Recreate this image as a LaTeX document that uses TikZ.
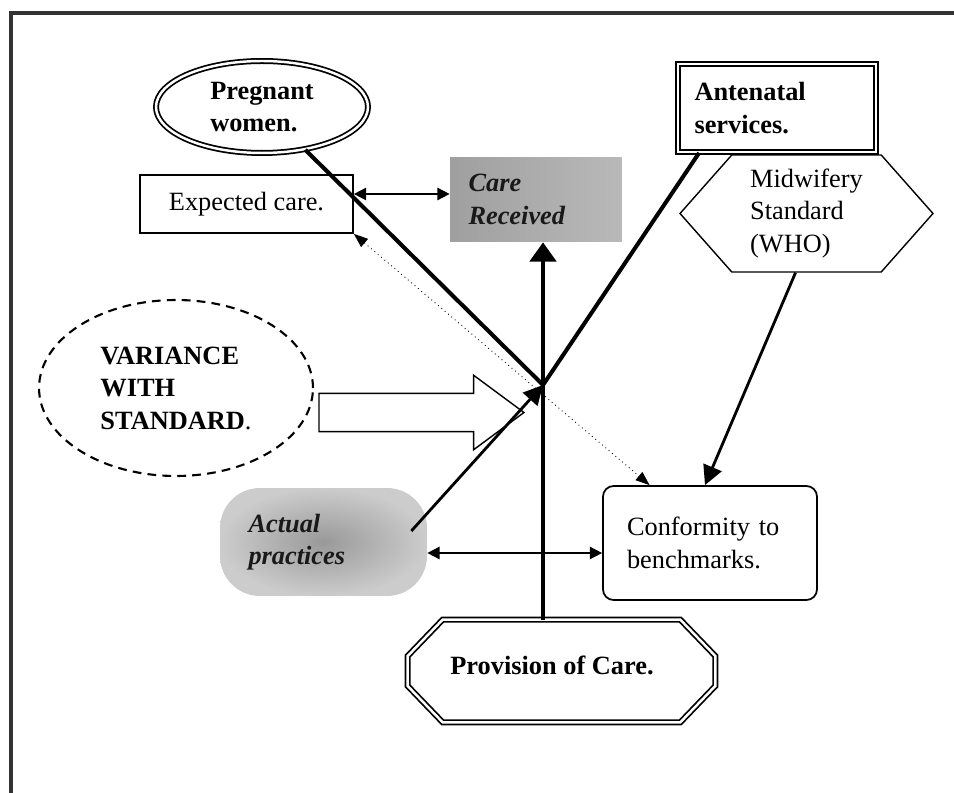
\documentclass[tikz,border=0pt]{standalone}
\usepackage{fontspec}
\setmainfont{Liberation Serif}
\usetikzlibrary{shapes.geometric, shapes.misc, shapes.arrows, shapes.symbols, arrows.meta, positioning, calc}
\newcommand{\basefont}{\fontsize{15}{18.5}\selectfont}
\tikzset{
    plainbox/.style={rectangle, draw, line width=1pt, align=center, font=\basefont},
    greybox/.style={rectangle, font=\basefont\bfseries\itshape, align=left, text=black!90},
    doubleline/.style={draw, double, line width=1pt, double distance=1.4pt},
    heavyline/.style={line width=2.3pt},
    arrow/.style={-{Triangle[length=11pt, width=11pt]}, line width=1.6pt},
    dblarrow/.style={{Triangle[length=7pt, width=7pt]}-{Triangle[length=7pt, width=7pt]}, line width=0.9pt},
    dottedarrow/.style={{Triangle[length=8pt, width=6pt]}-{Triangle[length=8pt, width=6pt]}, line width=0.5pt, dotted},
}
\begin{document}
\begin{tikzpicture}[x=0.02cm, y=-0.02cm]
    \useasboundingbox (0,0) rectangle (954,793);
    \draw[line width=2.2pt, black!80] (11,793) -- (11,13) -- (954,13);
    \coordinate (hub) at (543,385);

    \node[ellipse, doubleline, minimum width=4.24cm, minimum height=1.84cm, align=left, font=\basefont\bfseries] (preg) at (262,107) {Pregnant\\women.};
    \node[rectangle, doubleline, minimum width=3.96cm, minimum height=1.76cm, text width=3.3cm, align=left, font=\basefont\bfseries] (ante) at (777,108) {Antenatal\\services.};
    \node[plainbox, minimum width=4.26cm, minimum height=1.16cm] (exp) at (246.5,204) {Expected care.};
    \node[greybox, left color=gray!75, right color=gray!55, minimum width=3.44cm, minimum height=1.7cm, text width=2.7cm] (recv) at (536,199.5) {Care\\Received};
    \node[signal, signal to=west and east, signal pointer angle=97, draw, line width=0.8pt, minimum width=5.06cm, minimum height=2.34cm, align=left, font=\basefont] (mid) at (806.5,213.5) {Midwifery\\Standard\\(WHO)};

    \node[ellipse, draw, dash pattern=on 5pt off 3.5pt, line width=1.2pt, minimum width=5.48cm, minimum height=3.52cm, align=left, font=\basefont\bfseries] (var) at (176,388) {VARIANCE\\WITH\\STANDARD\textmd{.}};
    \node[single arrow, draw, line width=0.8pt, fill=white, minimum height=4.1cm, minimum width=1.46cm, single arrow head extend=0.36cm, single arrow tip angle=73, inner xsep=0pt, inner ysep=0.37cm] (push) at (408.5,412.5) {};

    \node[greybox, rounded corners=0.8cm, shading=radial, inner color=gray!80, outer color=gray!40, minimum width=4.14cm, minimum height=2.16cm, text width=3.0cm] (act) at (323.5,542) {Actual\\practices};
    \node[rectangle, rounded corners=6pt, draw, line width=1pt, minimum width=4.28cm, minimum height=2.28cm, text width=3.32cm, align=left, font=\basefont] (conf) at (710,543) {Conformity to\\benchmarks.};
    \node[rectangle, minimum width=6.14cm, minimum height=2.04cm, font=\basefont\bfseries] (prov) at (561.5,671) {};
    \node[font=\basefont\bfseries] (provtext) at (552,665) {Provision of Care.};
    \draw[doubleline] ($(prov.north west)+(35,0)$) -- ($(prov.north east)+(-35,0)$) -- ($(prov.east)+(0,-15)$) -- ($(prov.east)+(0,15)$)
        -- ($(prov.south east)+(-35,0)$) -- ($(prov.south west)+(35,0)$) -- ($(prov.west)+(0,15)$) -- ($(prov.west)+(0,-15)$) -- cycle;

    % spokes into the hub
    \draw[heavyline] (preg) -- (hub);
    \draw[heavyline] ($(ante.south west)!0.11!(ante.south east)$) -- (hub);
    \draw[heavyline, -{Triangle[length=11pt, width=15pt]}] (prov.north -| hub) -- (recv.south -| hub);
    \draw[arrow] ($(act.east)+(-16,-11)$) -- (hub);
    \draw[arrow] ($(mid.south)+(-11,0)$) -- ($(conf.north)+(-5,0)$);

    \coordinate (eq) at ([yshift=0.2cm]exp.east);
    \draw[dblarrow] (eq) -- (eq -| recv.west);
    \coordinate (aq) at ([yshift=-0.22cm]act.east);
    \draw[dblarrow] (aq) -- (aq -| conf.west);
    \draw[dottedarrow] (exp.south east) -- ($(conf.north west)!0.22!(conf.north east)$);
\end{tikzpicture}
\end{document}
